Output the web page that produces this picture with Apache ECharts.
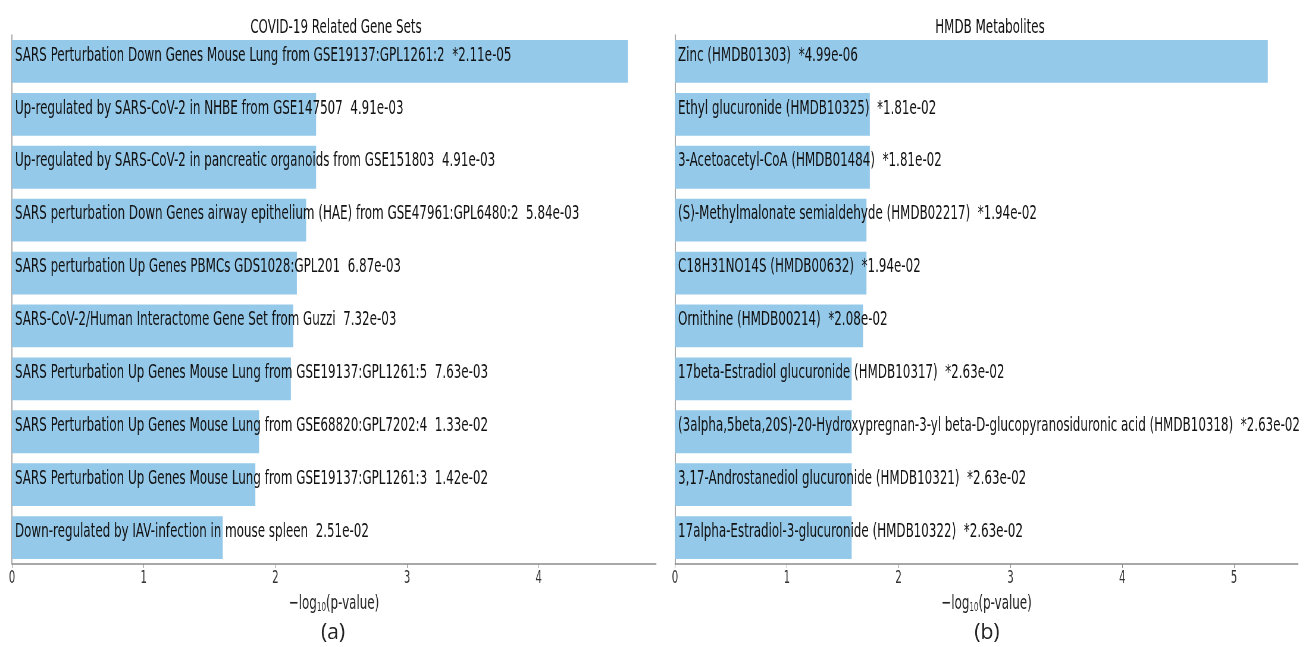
<!DOCTYPE html>
<html>
<head>
<meta charset="utf-8">
<script src="https://cdn.jsdelivr.net/npm/echarts@6/dist/echarts.min.js"></script>
<style>
  html, body { margin: 0; padding: 0; background: #fff; overflow: hidden; }
  #frame { width: 1311px; height: 647px; overflow: hidden; position: relative; }
  #chart { height: 647px; position: absolute; left: 0; top: 0; transform-origin: 0 0; }
</style>
</head>
<body>
<div id="frame"><div id="chart"></div></div>
<script>
// Enrichment results: term names and their p-values (asterisk marks significance)
const geneSetNames = [
  'SARS Perturbation Down Genes Mouse Lung from GSE19137:GPL1261:2',
  'Up-regulated by SARS-CoV-2 in NHBE from GSE147507',
  'Up-regulated by SARS-CoV-2 in pancreatic organoids from GSE151803',
  'SARS perturbation Down Genes airway epithelium (HAE) from GSE47961:GPL6480:2',
  'SARS perturbation Up Genes PBMCs GDS1028:GPL201',
  'SARS-CoV-2/Human Interactome Gene Set from Guzzi',
  'SARS Perturbation Up Genes Mouse Lung from GSE19137:GPL1261:5',
  'SARS Perturbation Up Genes Mouse Lung from GSE68820:GPL7202:4',
  'SARS Perturbation Up Genes Mouse Lung from GSE19137:GPL1261:3',
  'Down-regulated by IAV-infection in mouse spleen'
];
const geneSetPValues = [
  '*2.11e-05', '4.91e-03', '4.91e-03', '5.84e-03', '6.87e-03',
  '7.32e-03', '7.63e-03', '1.33e-02', '1.42e-02', '2.51e-02'
];

const metaboliteNames = [
  'Zinc (HMDB01303)',
  'Ethyl glucuronide (HMDB10325)',
  '3-Acetoacetyl-CoA (HMDB01484)',
  '(S)-Methylmalonate semialdehyde (HMDB02217)',
  'C18H31NO14S (HMDB00632)',
  'Ornithine (HMDB00214)',
  '17beta-Estradiol glucuronide (HMDB10317)',
  '(3alpha,5beta,20S)-20-Hydroxypregnan-3-yl beta-D-glucopyranosiduronic acid (HMDB10318)',
  '3,17-Androstanediol glucuronide (HMDB10321)',
  '17alpha-Estradiol-3-glucuronide (HMDB10322)'
];
const metabolitePValues = [
  '*4.99e-06', '*1.81e-02', '*1.81e-02', '*1.94e-02', '*1.94e-02',
  '*2.08e-02', '*2.63e-02', '*2.63e-02', '*2.63e-02', '*2.63e-02'
];

const panelTitles = ['COVID-19 Related Gene Sets', 'HMDB Metabolites'];
const panelTags = ['(a)', '(b)'];
const xTickValues = [[0, 1, 2, 3, 4], [0, 1, 2, 3, 4, 5]];

// The figure's text is drawn in a horizontally compressed style
const SX = 0.595;
const W = 1311 / SX;
const X = v => v / SX;

const chartEl = document.getElementById('chart');
chartEl.style.width = W + 'px';
chartEl.style.transform = 'scaleX(' + SX + ')';

const FONT = 'DejaVu Sans';
const BAR = '#95c9ea';
const SPINE = '#8c8c8c';

function negLog10(label) {
  return -Math.log10(parseFloat(label.replace('*', '')));
}

const panels = [
  { names: geneSetNames, pvals: geneSetPValues, left: 12, width: 644, max: 4.89, center: 333 },
  { names: metaboliteNames, pvals: metabolitePValues, left: 675, width: 623, max: 5.572, center: 987 }
];

const grid = [], xAxis = [], yAxis = [], series = [], titles = [], graphics = [];

panels.forEach((p, i) => {
  grid.push({ left: X(p.left), width: X(p.width), top: 35, height: 529, containLabel: false });
  xAxis.push({
    type: 'value', gridIndex: i, min: 0, max: p.max, interval: 1,
    axisLine: { show: true, lineStyle: { color: SPINE, width: 1.5 } },
    axisTick: { show: true, length: 4, lineStyle: { color: SPINE } },
    splitLine: { show: false },
    axisLabel: {
      color: '#333', fontFamily: FONT, fontSize: 17, margin: 6,
      showMaxLabel: false,
      formatter: v => (xTickValues[i].indexOf(v) >= 0 ? String(v) : '')
    },
    name: '{t|\u2212log}{s|10}{t|(p-value)}',
    nameLocation: 'middle', nameGap: 30,
    nameTextStyle: {
      fontFamily: FONT, fontSize: 20, color: '#222',
      rich: {
        t: { fontFamily: FONT, fontSize: 20, color: '#222' },
        s: { fontFamily: FONT, fontSize: 12, color: '#222', padding: [8, 0, 0, 0] }
      }
    }
  });
  yAxis.push({
    type: 'category', gridIndex: i, inverse: true, data: p.names,
    axisLine: { show: true, lineStyle: { color: SPINE, width: 1.5 } },
    axisTick: { show: false },
    axisLabel: { show: false },
    splitLine: { show: false }
  });
  series.push({
    type: 'bar', xAxisIndex: i, yAxisIndex: i,
    data: p.pvals.map(negLog10),
    barCategoryGap: '19%',
    itemStyle: { color: BAR },
    label: {
      show: true, position: 'insideLeft', distance: X(3), offset: [0, -6],
      fontFamily: FONT, fontSize: 20, color: '#111',
      formatter: d => p.names[d.dataIndex] + '  ' + p.pvals[d.dataIndex]
    },
    emphasis: { disabled: true },
    animation: false
  });
  titles.push({
    text: panelTitles[i], left: X(p.center), top: 13, textAlign: 'center',
    textStyle: { fontFamily: FONT, fontSize: 20, fontWeight: 'normal', color: '#111' }
  });
  graphics.push({
    type: 'text', x: X(p.center), y: 633, scaleX: 1 / SX,
    style: {
      text: panelTags[i], font: '21px "Open Sans", "DejaVu Sans", sans-serif',
      fill: '#222', textAlign: 'center', textVerticalAlign: 'middle'
    }
  });
});

const chart = echarts.init(chartEl, null, { renderer: 'canvas' });
chart.setOption({
  animation: false,
  backgroundColor: '#fff',
  title: titles,
  grid, xAxis, yAxis, series,
  graphic: graphics
});
</script>
</body>
</html>
